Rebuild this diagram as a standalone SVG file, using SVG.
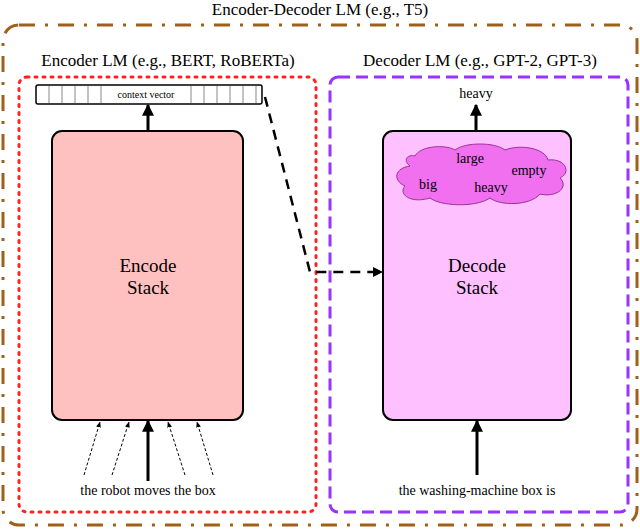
<svg xmlns="http://www.w3.org/2000/svg" width="640" height="529" viewBox="0 0 640 529">
<style>
text{font-family:"Liberation Serif",serif;fill:#000}
.t{font-size:17px}
.big{font-size:19px;text-anchor:middle}
.cell{fill:none;stroke:#888;stroke-width:1}
</style>
<defs>
<marker id="ah" viewBox="0 0 10 10" refX="9" refY="5" markerWidth="4" markerHeight="4" orient="auto"><path d="M0,0L10,5L0,10z" fill="#000"/></marker>
<marker id="as" viewBox="0 0 10 10" refX="9" refY="5" markerWidth="6" markerHeight="6" orient="auto"><path d="M0,1L10,5L0,9z" fill="#000"/></marker>
</defs>
<rect x="3" y="25" width="634" height="500" rx="16" fill="none" stroke="#a0601a" stroke-width="3" stroke-dasharray="16,10,3,10"/>
<text x="320" y="15" class="t" text-anchor="middle">Encoder-Decoder LM (e.g., T5)</text>
<g id="encoder">
<rect x="19" y="77" width="297" height="435" rx="8" fill="none" stroke="#ff2020" stroke-width="3" stroke-dasharray="2,6" stroke-linecap="round"/>
<text x="168" y="66" class="t" text-anchor="middle">Encoder LM (e.g., BERT, RoBERTa)</text>
<rect x="52" y="131" width="191" height="289" rx="10" fill="#ffc0c0" stroke="#000" stroke-width="2"/>
<text x="148" y="272" class="big">Encode</text>
<text x="148" y="294" class="big">Stack</text>
</g>
<g id="context">
<rect x="36" y="85" width="226" height="19" rx="2" fill="#fff" stroke="#000" stroke-width="1.5"/>
<path class="cell" d="M49,86V103M62,86V103M75,86V103M88,86V103M101,86V103M191,86V103M204,86V103M217,86V103M230,86V103M243,86V103M256,86V103"/>
<text x="146" y="98" font-size="10" text-anchor="middle">context vector</text>
</g>
<g id="decoder">
<rect x="330" y="77" width="298" height="435" rx="8" fill="none" stroke="#9933ff" stroke-width="3" stroke-dasharray="12,6"/>
<text x="480" y="66" class="t" text-anchor="middle">Decoder LM (e.g., GPT-2, GPT-3)</text>
<rect x="383" y="131" width="188" height="289" rx="10" fill="#ffc0ff" stroke="#000" stroke-width="2"/>
<text x="477" y="272" class="big">Decode</text>
<text x="477" y="294" class="big">Stack</text>
<path d="M415,156C420,146 445,144 455,150C465,142 495,142 505,150C520,144 545,148 548,160C565,158 572,172 560,178C570,188 555,198 540,194C530,206 500,206 490,198C475,208 440,206 430,198C410,204 398,194 405,186C392,180 395,168 410,166C402,160 408,154 415,156Z" fill="#f070f0" stroke="#993399" stroke-width="1"/>
<text x="470" y="163" font-size="14" text-anchor="middle">large</text>
<text x="529" y="175" font-size="14" text-anchor="middle">empty</text>
<text x="428" y="189" font-size="14" text-anchor="middle">big</text>
<text x="491" y="192" font-size="14" text-anchor="middle">heavy</text>
<text x="476" y="98" font-size="14" text-anchor="middle">heavy</text>
</g>
<g id="inputs">
<text x="148" y="495" font-size="14" text-anchor="middle">the robot moves the box</text>
<text x="477" y="495" font-size="14" text-anchor="middle">the washing-machine box is</text>
</g>
<g id="connectors" stroke="#000" fill="none">
<line x1="148" y1="131" x2="148" y2="105" stroke-width="3" marker-end="url(#ah)"/>
<line x1="476" y1="131" x2="476" y2="105" stroke-width="3" marker-end="url(#ah)"/>
<polyline points="265,97 310,272 382,272" stroke-width="2.5" stroke-dasharray="10,7" marker-end="url(#ah)"/>
<line x1="148" y1="481" x2="148" y2="421" stroke-width="3" marker-end="url(#ah)"/>
<line x1="477" y1="475" x2="477" y2="421" stroke-width="3" marker-end="url(#ah)"/>
<g stroke-width="1" stroke-dasharray="3,2">
<line x1="84" y1="475" x2="100" y2="422" marker-end="url(#as)"/>
<line x1="112" y1="475" x2="129" y2="422" marker-end="url(#as)"/>
<line x1="185" y1="475" x2="168" y2="422" marker-end="url(#as)"/>
<line x1="213" y1="475" x2="197" y2="422" marker-end="url(#as)"/>
</g>
</g>
</svg>
